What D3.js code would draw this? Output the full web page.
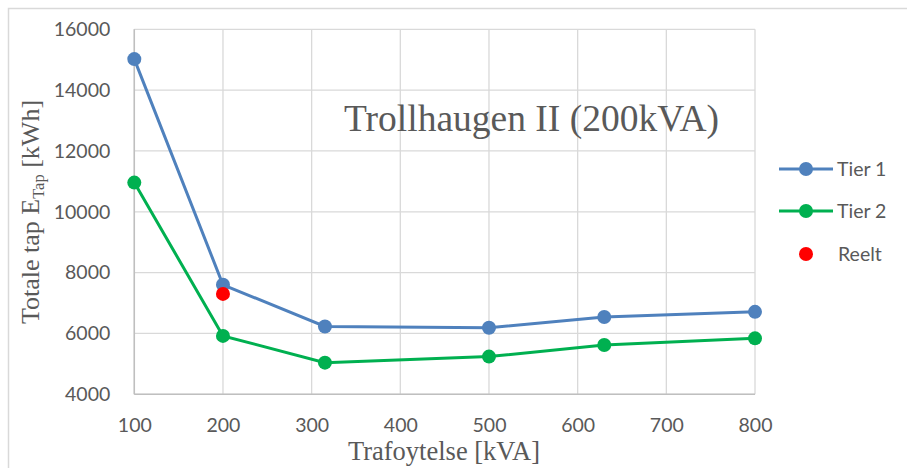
<!DOCTYPE html>
<html><head><meta charset="utf-8">
<script src="https://cdn.jsdelivr.net/npm/d3@7"></script>
<style>body{margin:0;background:#fff}</style>
</head><body>
<svg id="c" width="907" height="468"></svg>
<script>
const xValues = [100, 200, 315, 500, 630, 800];
const tier1 = [15020, 7600, 6230, 6190, 6540, 6710];
const tier2 = [10960, 5920, 5040, 5240, 5620, 5840];
const reeltX = [200];
const reeltY = [7300];
const xTicks = [100, 200, 300, 400, 500, 600, 700, 800];
const yTicks = [4000, 6000, 8000, 10000, 12000, 14000, 16000];
const seriesNames = ["Tier 1", "Tier 2", "Reelt"];
const colors = {t1: "#4F81BD", t2: "#00B050", r: "#FF0000"};

const svg = d3.select("#c");
const L = 134.3, R = 755, T = 29.3, B = 394.3;
const x = d3.scaleLinear().domain([100, 800]).range([L, R]);
const y = d3.scaleLinear().domain([4000, 16000]).range([B, T]);

// chart border
svg.append("rect").attr("x", 8.5).attr("y", 8.5).attr("width", 920).attr("height", 480)
  .attr("fill", "none").attr("stroke", "#d9d9d9").attr("stroke-width", 1.5);

// gridlines
const g = svg.append("g");
g.selectAll(".hg").data(yTicks).join("line")
  .attr("x1", L).attr("x2", R).attr("y1", d => y(d)).attr("y2", d => y(d))
  .attr("stroke", "#d9d9d9").attr("stroke-width", 1.3);
g.selectAll(".vg").data(xTicks).join("line")
  .attr("y1", T).attr("y2", B).attr("x1", d => x(d)).attr("x2", d => x(d))
  .attr("stroke", "#d9d9d9").attr("stroke-width", 1.3);
// axes lines
svg.append("line").attr("x1", L).attr("x2", R).attr("y1", B).attr("y2", B).attr("stroke", "#bfbfbf").attr("stroke-width", 1.5);
svg.append("line").attr("x1", L).attr("x2", L).attr("y1", T).attr("y2", B).attr("stroke", "#bfbfbf").attr("stroke-width", 1.5);

// tick labels via axes
const fontSans = "Lato, 'Open Sans', sans-serif";
const ax = svg.append("g").attr("transform", `translate(0,${B})`)
  .call(d3.axisBottom(x).tickValues(xTicks).tickSize(0).tickPadding(24).tickFormat(d3.format("d")));
ax.select(".domain").remove();
ax.selectAll("text").attr("font-family", fontSans).attr("font-size", 19.5).attr("fill", "#595959");
const ay = svg.append("g").attr("transform", `translate(${L},0)`)
  .call(d3.axisLeft(y).tickValues(yTicks).tickSize(0).tickPadding(24).tickFormat(d3.format("d")));
ay.select(".domain").remove();
ay.selectAll("text").attr("font-family", fontSans).attr("font-size", 19.5).attr("fill", "#595959");

// lines
const line = (vals) => d3.line().x((d, i) => x(xValues[i])).y(d => y(d))(vals);
svg.append("path").attr("d", line(tier1)).attr("fill", "none").attr("stroke", colors.t1).attr("stroke-width", 3);
svg.append("path").attr("d", line(tier2)).attr("fill", "none").attr("stroke", colors.t2).attr("stroke-width", 3);
svg.selectAll(".p1").data(tier1).join("circle").attr("cx", (d, i) => x(xValues[i])).attr("cy", d => y(d)).attr("r", 7).attr("fill", colors.t1);
svg.selectAll(".p2").data(tier2).join("circle").attr("cx", (d, i) => x(xValues[i])).attr("cy", d => y(d)).attr("r", 7).attr("fill", colors.t2);
svg.selectAll(".pr").data(reeltY).join("circle").attr("cx", (d, i) => x(reeltX[i])).attr("cy", d => y(d)).attr("r", 7).attr("fill", colors.r);

// title
const serif = "'Liberation Serif', 'Times New Roman', serif";
svg.append("text").attr("x", 344).attr("y", 131).attr("font-family", serif)
  .attr("font-size", 37.5).attr("fill", "#595959").text("Trollhaugen II (200kVA)");

// axis titles
svg.append("text").attr("x", 444).attr("y", 460).attr("text-anchor", "middle").attr("font-family", serif)
  .attr("font-size", 26.5).attr("fill", "#595959").text("Trafoytelse [kVA]");
const yt = svg.append("text").attr("transform", "translate(39,212) rotate(-90)").attr("text-anchor", "middle")
  .attr("font-family", serif).attr("font-size", 26).attr("fill", "#595959");
yt.append("tspan").text("Totale tap E");
yt.append("tspan").attr("font-size", 16.5).attr("dy", 5).text("Tap");
yt.append("tspan").attr("dy", -5).text(" [kWh]");

// legend
const leg = [
  {name: seriesNames[0], c: colors.t1, line: true, y: 169},
  {name: seriesNames[1], c: colors.t2, line: true, y: 211},
  {name: seriesNames[2], c: colors.r, line: false, y: 254}
];
const lg = svg.append("g");
leg.forEach(d => {
  if (d.line) lg.append("line").attr("x1", 779).attr("x2", 833).attr("y1", d.y).attr("y2", d.y).attr("stroke", d.c).attr("stroke-width", 3);
  lg.append("circle").attr("cx", 806).attr("cy", d.y).attr("r", 7).attr("fill", d.c);
  lg.append("text").attr("x", d.line ? 837 : 838).attr("y", d.y + 7).attr("font-family", fontSans)
    .attr("font-size", 19.5).attr("fill", "#595959").text(d.name);
});
</script>
</body></html>
